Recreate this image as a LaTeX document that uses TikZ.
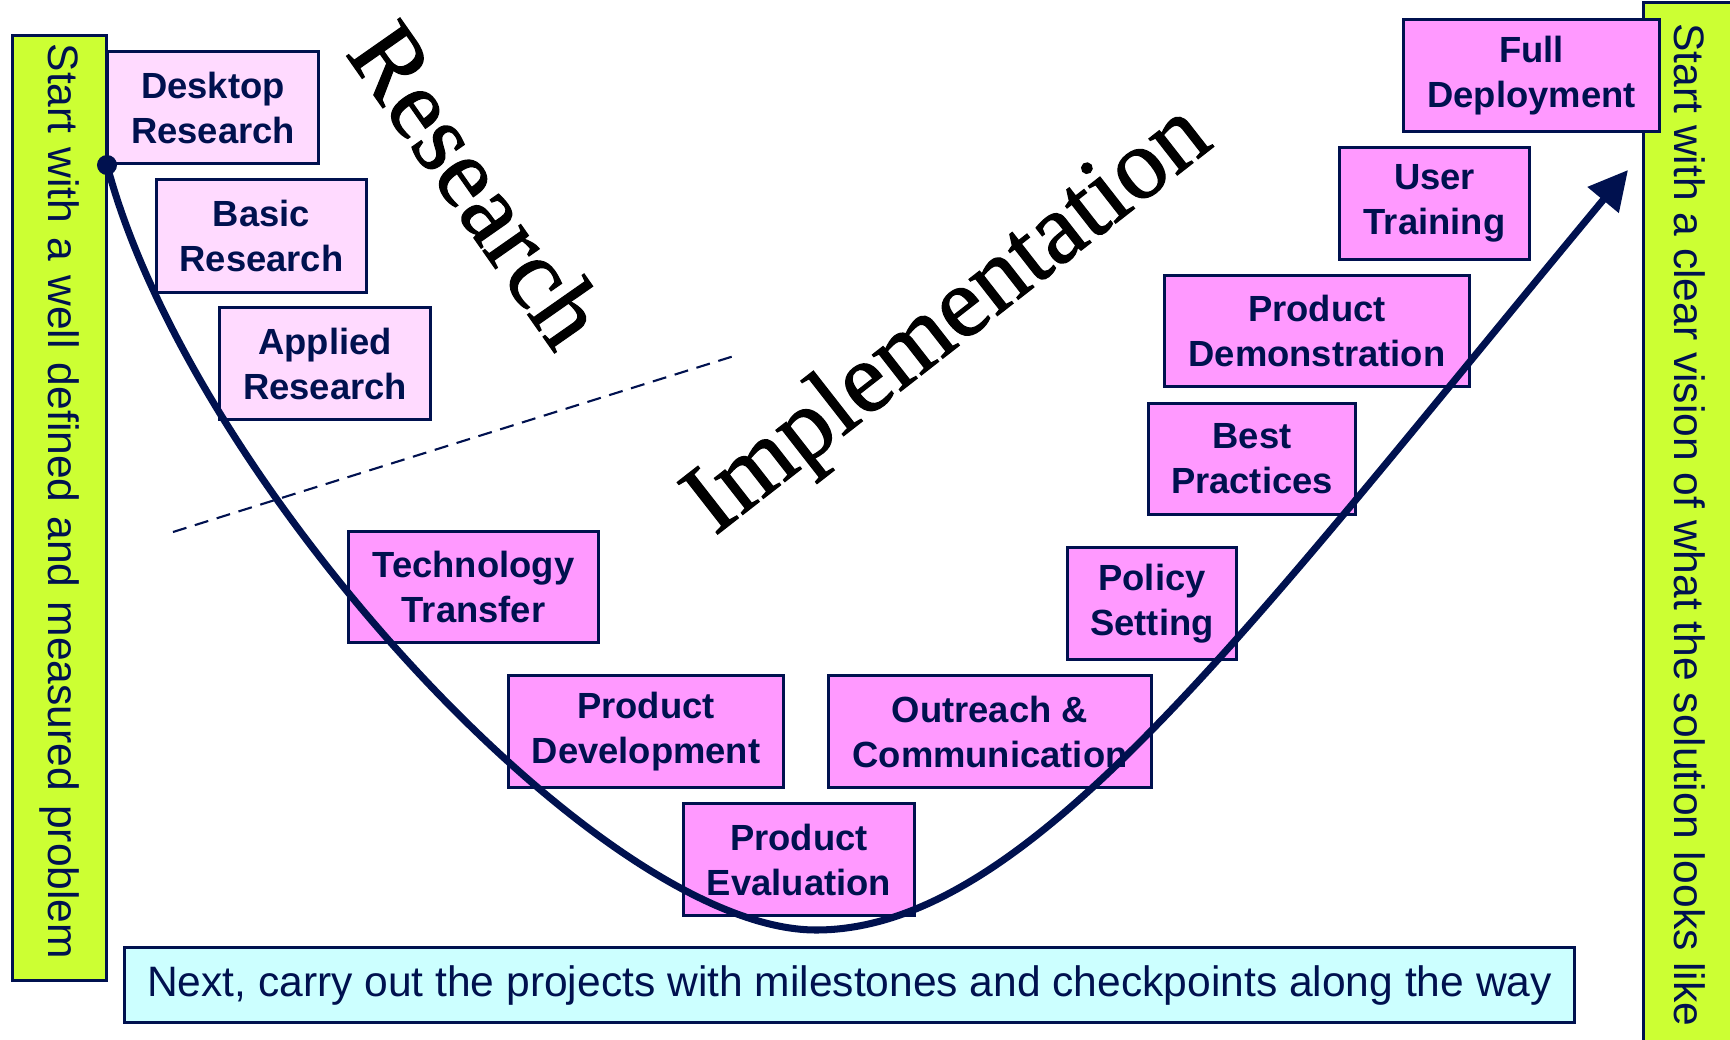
\documentclass[tikz,border=0pt]{standalone}
\usepackage{fontspec}
\setmainfont{Liberation Sans}
\newfontfamily\phasefont[FakeBold=1.2]{Liberation Serif}
\usetikzlibrary{arrows.meta, shadows}

\definecolor{navy}{HTML}{00114F}
\definecolor{stagepink}{HTML}{FF99FF}
\definecolor{dotpink}{HTML}{FFDAFF}
\definecolor{limebar}{HTML}{CCFF33}
\definecolor{paleblue}{HTML}{CCFFFF}

\begin{document}
\begin{tikzpicture}[x=0.01cm, y=-0.01cm,
  stage/.style={draw=navy, line width=0.85pt, fill=stagepink, text=navy,
    align=center, inner sep=0pt,
    font=\fontsize{10.35pt}{12.8pt}\selectfont\bfseries,
    drop shadow={shadow xshift=0.5pt, shadow yshift=-0.5pt, fill=black!45, opacity=0.5}},
  research stage/.style={stage, fill=dotpink},
  sidebar/.style={draw=navy, line width=0.85pt, fill=limebar, text=navy,
    inner ysep=0pt, inner xsep=0.08cm, rotate=-90,
    font=\fontsize{12.1pt}{14pt}\selectfont},
  phase/.style={font=\phasefont\fontsize{28.5pt}{30pt}\selectfont}]
  \useasboundingbox (0,0) rectangle (1730,1039);

  % side bars and the bottom note
  \node[sidebar, minimum width=9.44cm, minimum height=0.93cm, text width=9.28cm, align=left] (problem) at (59.5,508)
    {Start with a well defined and measured problem};
  \node[sidebar, minimum width=10.44cm, minimum height=0.92cm] (vision) at (1690,525)
    {Start with a clear vision of what the solution looks like\hspace{0.2cm}};
  \node[draw=navy, line width=0.85pt, fill=paleblue, text=navy, inner sep=0pt,
    font=\fontsize{12.1pt}{14pt}\selectfont,
    minimum width=14.49cm, minimum height=0.74cm,
    drop shadow={shadow xshift=0.5pt, shadow yshift=-0.5pt, fill=black!45, opacity=0.5}]
    (carryout) at (849.5,985)
    {Next, carry out the projects with milestones and checkpoints along the way};

  % research / implementation divide
  \coordinate (divide west) at (173,532);
  \coordinate (divide east) at (734,356);
  \draw[navy, line width=0.6pt, dash pattern=on 4pt off 2.5pt] (divide west) -- (divide east);

  \node[phase, rotate=-55] (research) at (478,184) {Research};
  \node[phase, rotate=38] (implementation) at (950,322) {Implementation};

  % research stages
  \node[research stage, minimum width=2.10cm, minimum height=1.11cm] (desktop) at (213,107.5) {Desktop\\Research};
  \node[research stage, minimum width=2.09cm, minimum height=1.12cm] (basic) at (261.5,236) {Basic\\Research};
  \node[research stage, minimum width=2.10cm, minimum height=1.11cm] (applied) at (325,363.5) {Applied\\Research};

  % implementation stages
  \node[stage, minimum width=2.49cm, minimum height=1.10cm] (transfer) at (473.5,587) {Technology\\Transfer};
  \node[stage, minimum width=2.74cm, minimum height=1.11cm] (development) at (646,731.5) {Product\\Development};
  \node[stage, minimum width=2.30cm, minimum height=1.11cm] (evaluation) at (799,859.5) {Product\\Evaluation};
  \node[stage, minimum width=3.22cm, minimum height=1.11cm] (outreach) at (990,731.5) {Outreach \&\\Communication};
  \node[stage, minimum width=1.68cm, minimum height=1.11cm] (policy) at (1152,603.5) {Policy\\Setting};
  \node[stage, minimum width=2.06cm, minimum height=1.10cm] (practices) at (1252,459) {Best\\Practices};
  \node[stage, minimum width=3.04cm, minimum height=1.10cm] (demonstration) at (1317,331) {Product\\Demonstration};
  \node[stage, minimum width=1.89cm, minimum height=1.11cm] (training) at (1434.5,203.5) {User\\Training};
  \node[stage, minimum width=2.55cm, minimum height=1.11cm] (deployment) at (1531.5,75.5) {Full\\Deployment};

  % the path from problem to solution
  \coordinate (start) at (107,165);
  \coordinate (lowest) at (816,930);
  \coordinate (goal) at (1628,170);
  \draw[navy, line width=2pt, -{Triangle[length=0.39cm, width=0.39cm]}]
    (start) .. controls (190,480) and (600,930) .. (lowest)
            .. controls (1030,930) and (1250,625) .. (goal);
  \fill[navy] (start) circle[radius=0.1cm];
\end{tikzpicture}
\end{document}
